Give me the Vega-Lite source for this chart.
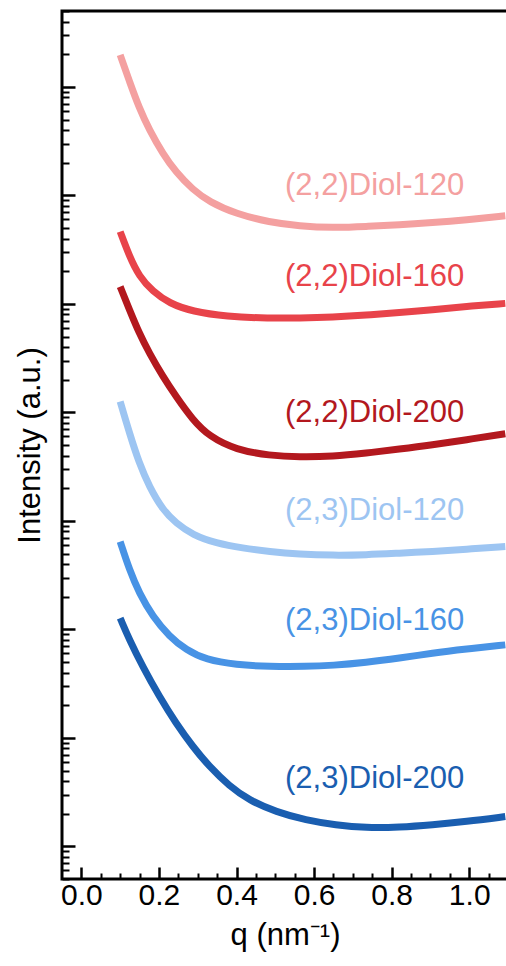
{
  "$schema": "https://vega.github.io/schema/vega-lite/v6.json",
  "width": 446,
  "height": 868,
  "autosize": {"type": "none"},
  "padding": {"left": 62, "top": 11, "right": 0, "bottom": 87},
  "background": "white",
  "config": {
    "view": {"stroke": "black", "strokeWidth": 3},
    "font": "Liberation Sans",
    "axis": {"domain": false, "grid": false, "tickColor": "black", "labelColor": "black", "titleColor": "black", "labelFont": "Liberation Sans", "titleFont": "Liberation Sans", "titleFontWeight": "normal"}
  },
  "datasets": {
    "curves": [
      {"s": "(2,2)Diol-120", "q": 0.100, "I": 1.97e8},
      {"s": "(2,2)Diol-120", "q": 0.124, "I": 1.12e8},
      {"s": "(2,2)Diol-120", "q": 0.149, "I": 6.40e7},
      {"s": "(2,2)Diol-120", "q": 0.175, "I": 4.02e7},
      {"s": "(2,2)Diol-120", "q": 0.210, "I": 2.42e7},
      {"s": "(2,2)Diol-120", "q": 0.244, "I": 1.63e7},
      {"s": "(2,2)Diol-120", "q": 0.287, "I": 1.13e7},
      {"s": "(2,2)Diol-120", "q": 0.330, "I": 8.70e6},
      {"s": "(2,2)Diol-120", "q": 0.399, "I": 6.75e6},
      {"s": "(2,2)Diol-120", "q": 0.485, "I": 5.65e6},
      {"s": "(2,2)Diol-120", "q": 0.562, "I": 5.22e6},
      {"s": "(2,2)Diol-120", "q": 0.648, "I": 5.02e6},
      {"s": "(2,2)Diol-120", "q": 0.734, "I": 5.16e6},
      {"s": "(2,2)Diol-120", "q": 0.820, "I": 5.35e6},
      {"s": "(2,2)Diol-120", "q": 0.905, "I": 5.61e6},
      {"s": "(2,2)Diol-120", "q": 0.991, "I": 5.94e6},
      {"s": "(2,2)Diol-120", "q": 1.093, "I": 6.47e6},

      {"s": "(2,2)Diol-160", "q": 0.100, "I": 4.63e6},
      {"s": "(2,2)Diol-160", "q": 0.124, "I": 2.73e6},
      {"s": "(2,2)Diol-160", "q": 0.149, "I": 1.79e6},
      {"s": "(2,2)Diol-160", "q": 0.184, "I": 1.30e6},
      {"s": "(2,2)Diol-160", "q": 0.227, "I": 1.01e6},
      {"s": "(2,2)Diol-160", "q": 0.287, "I": 8.49e5},
      {"s": "(2,2)Diol-160", "q": 0.373, "I": 7.64e5},
      {"s": "(2,2)Diol-160", "q": 0.485, "I": 7.35e5},
      {"s": "(2,2)Diol-160", "q": 0.562, "I": 7.40e5},
      {"s": "(2,2)Diol-160", "q": 0.648, "I": 7.55e5},
      {"s": "(2,2)Diol-160", "q": 0.734, "I": 7.85e5},
      {"s": "(2,2)Diol-160", "q": 0.820, "I": 8.30e5},
      {"s": "(2,2)Diol-160", "q": 0.905, "I": 8.81e5},
      {"s": "(2,2)Diol-160", "q": 0.991, "I": 9.45e5},
      {"s": "(2,2)Diol-160", "q": 1.093, "I": 1.01e6},

      {"s": "(2,2)Diol-200", "q": 0.100, "I": 1.44e6},
      {"s": "(2,2)Diol-200", "q": 0.124, "I": 8.81e5},
      {"s": "(2,2)Diol-200", "q": 0.149, "I": 5.37e5},
      {"s": "(2,2)Diol-200", "q": 0.175, "I": 3.52e5},
      {"s": "(2,2)Diol-200", "q": 0.210, "I": 2.14e5},
      {"s": "(2,2)Diol-200", "q": 0.244, "I": 1.40e5},
      {"s": "(2,2)Diol-200", "q": 0.287, "I": 8.53e4},
      {"s": "(2,2)Diol-200", "q": 0.330, "I": 5.98e4},
      {"s": "(2,2)Diol-200", "q": 0.399, "I": 4.51e4},
      {"s": "(2,2)Diol-200", "q": 0.485, "I": 4.00e4},
      {"s": "(2,2)Diol-200", "q": 0.562, "I": 3.86e4},
      {"s": "(2,2)Diol-200", "q": 0.648, "I": 3.92e4},
      {"s": "(2,2)Diol-200", "q": 0.734, "I": 4.21e4},
      {"s": "(2,2)Diol-200", "q": 0.820, "I": 4.58e4},
      {"s": "(2,2)Diol-200", "q": 0.905, "I": 5.01e4},
      {"s": "(2,2)Diol-200", "q": 0.991, "I": 5.58e4},
      {"s": "(2,2)Diol-200", "q": 1.093, "I": 6.34e4},

      {"s": "(2,3)Diol-120", "q": 0.100, "I": 1.26e5},
      {"s": "(2,3)Diol-120", "q": 0.124, "I": 6.43e4},
      {"s": "(2,3)Diol-120", "q": 0.149, "I": 3.40e4},
      {"s": "(2,3)Diol-120", "q": 0.175, "I": 2.07e4},
      {"s": "(2,3)Diol-120", "q": 0.210, "I": 1.26e4},
      {"s": "(2,3)Diol-120", "q": 0.244, "I": 9.53e3},
      {"s": "(2,3)Diol-120", "q": 0.287, "I": 7.43e3},
      {"s": "(2,3)Diol-120", "q": 0.347, "I": 6.22e3},
      {"s": "(2,3)Diol-120", "q": 0.416, "I": 5.60e3},
      {"s": "(2,3)Diol-120", "q": 0.485, "I": 5.21e3},
      {"s": "(2,3)Diol-120", "q": 0.562, "I": 4.93e3},
      {"s": "(2,3)Diol-120", "q": 0.648, "I": 4.80e3},
      {"s": "(2,3)Diol-120", "q": 0.734, "I": 4.86e3},
      {"s": "(2,3)Diol-120", "q": 0.820, "I": 5.04e3},
      {"s": "(2,3)Diol-120", "q": 0.905, "I": 5.21e3},
      {"s": "(2,3)Diol-120", "q": 0.991, "I": 5.48e3},
      {"s": "(2,3)Diol-120", "q": 1.093, "I": 5.79e3},

      {"s": "(2,3)Diol-160", "q": 0.100, "I": 6440},
      {"s": "(2,3)Diol-160", "q": 0.124, "I": 3530},
      {"s": "(2,3)Diol-160", "q": 0.149, "I": 2160},
      {"s": "(2,3)Diol-160", "q": 0.184, "I": 1310},
      {"s": "(2,3)Diol-160", "q": 0.227, "I": 859},
      {"s": "(2,3)Diol-160", "q": 0.270, "I": 647},
      {"s": "(2,3)Diol-160", "q": 0.321, "I": 524},
      {"s": "(2,3)Diol-160", "q": 0.399, "I": 471},
      {"s": "(2,3)Diol-160", "q": 0.485, "I": 454},
      {"s": "(2,3)Diol-160", "q": 0.579, "I": 454},
      {"s": "(2,3)Diol-160", "q": 0.648, "I": 465},
      {"s": "(2,3)Diol-160", "q": 0.734, "I": 495},
      {"s": "(2,3)Diol-160", "q": 0.820, "I": 543},
      {"s": "(2,3)Diol-160", "q": 0.905, "I": 604},
      {"s": "(2,3)Diol-160", "q": 0.991, "I": 657},
      {"s": "(2,3)Diol-160", "q": 1.093, "I": 719},

      {"s": "(2,3)Diol-200", "q": 0.100, "I": 1270},
      {"s": "(2,3)Diol-200", "q": 0.124, "I": 800},
      {"s": "(2,3)Diol-200", "q": 0.158, "I": 454},
      {"s": "(2,3)Diol-200", "q": 0.201, "I": 240},
      {"s": "(2,3)Diol-200", "q": 0.244, "I": 136},
      {"s": "(2,3)Diol-200", "q": 0.287, "I": 83.2},
      {"s": "(2,3)Diol-200", "q": 0.330, "I": 54.3},
      {"s": "(2,3)Diol-200", "q": 0.381, "I": 36.1},
      {"s": "(2,3)Diol-200", "q": 0.433, "I": 26.5},
      {"s": "(2,3)Diol-200", "q": 0.502, "I": 20.8},
      {"s": "(2,3)Diol-200", "q": 0.579, "I": 17.4},
      {"s": "(2,3)Diol-200", "q": 0.656, "I": 15.7},
      {"s": "(2,3)Diol-200", "q": 0.734, "I": 14.8},
      {"s": "(2,3)Diol-200", "q": 0.820, "I": 15.0},
      {"s": "(2,3)Diol-200", "q": 0.905, "I": 15.8},
      {"s": "(2,3)Diol-200", "q": 0.991, "I": 16.9},
      {"s": "(2,3)Diol-200", "q": 1.093, "I": 18.8}
    ],
    "labels": [
      {"s": "(2,2)Diol-120", "q": 0.525, "I": 1.01e7},
      {"s": "(2,2)Diol-160", "q": 0.525, "I": 1.47e6},
      {"s": "(2,2)Diol-200", "q": 0.525, "I": 8.17e4},
      {"s": "(2,3)Diol-120", "q": 0.525, "I": 1.02e4},
      {"s": "(2,3)Diol-160", "q": 0.525, "I": 989},
      {"s": "(2,3)Diol-200", "q": 0.525, "I": 34.6}
    ]
  },
  "resolve": {"axis": {"x": "independent", "y": "independent"}},
  "layer": [
    {
      "data": {"name": "curves"},
      "mark": {"type": "line", "strokeWidth": 7, "interpolate": "basis", "strokeCap": "butt", "clip": true},
      "encoding": {
        "x": {"field": "q", "type": "quantitative",
          "scale": {"domain": [-0.05, 1.1], "nice": false, "zero": false},
          "axis": {"orient": "bottom", "values": [0, 0.2, 0.4, 0.6, 0.8, 1.0], "format": ".1f", "tickSize": -12, "tickWidth": 2.5, "labelFontSize": 30, "labelPadding": 13, "title": "q (nm⁻¹)", "titleFontSize": 31, "titlePadding": 10}},
        "y": {"field": "I", "type": "quantitative",
          "scale": {"type": "log", "domain": [5, 5e8], "nice": false},
          "axis": {"orient": "left", "values": [10, 100, 1000, 10000, 100000, 1000000, 10000000, 100000000], "labels": false, "tickSize": -13, "tickWidth": 2.5, "title": "Intensity (a.u.)", "titleFontSize": 31, "titlePadding": 14}},
        "color": {"field": "s", "type": "nominal", "legend": null,
          "scale": {"domain": ["(2,2)Diol-120", "(2,2)Diol-160", "(2,2)Diol-200", "(2,3)Diol-120", "(2,3)Diol-160", "(2,3)Diol-200"],
                    "range": ["#F4A0A0", "#E8434A", "#B3181E", "#9DC5F2", "#4893E5", "#1A5EB0"]}}
      }
    },
    {
      "data": {"name": "labels"},
      "mark": {"type": "text", "align": "left", "baseline": "alphabetic", "fontSize": 31, "font": "Liberation Sans"},
      "encoding": {
        "x": {"field": "q", "type": "quantitative",
          "axis": {"orient": "bottom", "values": [0.05, 0.1, 0.15, 0.25, 0.3, 0.35, 0.45, 0.5, 0.55, 0.65, 0.7, 0.75, 0.85, 0.9, 0.95, 1.05], "labels": false, "tickSize": -6, "tickWidth": 2, "title": null}},
        "y": {"field": "I", "type": "quantitative",
          "axis": {"orient": "left", "values": [5, 6, 7, 8, 9, 20, 30, 40, 50, 60, 70, 80, 90, 200, 300, 400, 500, 600, 700, 800, 900, 2000, 3000, 4000, 5000, 6000, 7000, 8000, 9000, 20000, 30000, 40000, 50000, 60000, 70000, 80000, 90000, 200000, 300000, 400000, 500000, 600000, 700000, 800000, 900000, 2000000, 3000000, 4000000, 5000000, 6000000, 7000000, 8000000, 9000000, 20000000, 30000000, 40000000, 50000000, 60000000, 70000000, 80000000, 90000000, 200000000, 300000000, 400000000, 500000000], "labels": false, "tickSize": -7, "tickWidth": 2, "title": null}},
        "text": {"field": "s", "type": "nominal"},
        "color": {"field": "s", "type": "nominal", "legend": null}
      }
    }
  ]
}
